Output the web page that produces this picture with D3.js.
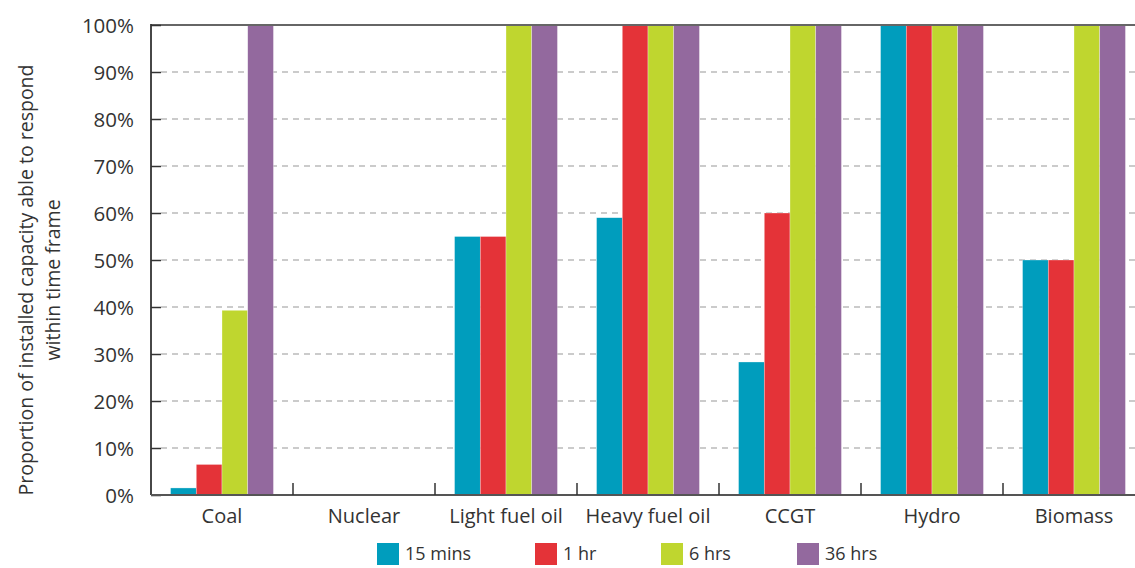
<!DOCTYPE html>
<html>
<head>
<meta charset="utf-8">
<script src="https://cdn.jsdelivr.net/npm/d3@7"></script>
<style>
  html, body { margin: 0; padding: 0; background: #fff; }
  svg { display: block; }
  text { font-family: "Open Sans", "Noto Sans", sans-serif; fill: #333; }
</style>
</head>
<body>
<svg id="chart" width="1135" height="568"></svg>
<script>
const categories = ["Coal", "Nuclear", "Light fuel oil", "Heavy fuel oil", "CCGT", "Hydro", "Biomass"];
const seriesNames = ["15 mins", "1 hr", "6 hrs", "36 hrs"];
const seriesColors = ["#009DBD", "#E43338", "#BFD62F", "#93699E"];
const mins15 = [1.5, 0, 55, 59, 28.3, 100, 50];
const hr1    = [6.5, 0, 55, 100, 60, 100, 50];
const hrs6   = [39.3, 0, 100, 100, 100, 100, 100];
const hrs36  = [100, 0, 100, 100, 100, 100, 100];
const seriesValues = [mins15, hr1, hrs6, hrs36];
const yTicks = [0, 10, 20, 30, 40, 50, 60, 70, 80, 90, 100];

(function () {
const svg = d3.select("#chart");
const mLeft = 151, mTop = 25, mBottom = 495, bandW = 142;
const mRight = mLeft + bandW * categories.length;

const x = d3.scaleBand().domain(categories).range([mLeft, mRight]).paddingInner(0).paddingOuter(0);
const xs = d3.scaleBand().domain(seriesNames).range([0, x.bandwidth()]).paddingInner(0).paddingOuter(0.76);
const y = d3.scaleLinear().domain([0, 100]).range([mBottom, mTop]);

// gridlines
svg.append("g").selectAll("line").data(yTicks.filter(d => d > 0 && d < 100)).join("line")
  .attr("x1", mLeft + 10).attr("x2", 1135)
  .attr("y1", d => y(d)).attr("y2", d => y(d))
  .attr("stroke", "#bbb").attr("stroke-width", 1.5).attr("stroke-dasharray", "6,5");

// bars
const data = [];
categories.forEach((c, i) => seriesNames.forEach((s, j) => data.push({c, s, v: seriesValues[j][i], color: seriesColors[j]})));
svg.append("g").selectAll("rect").data(data.filter(d => d.v > 0)).join("rect")
  .attr("x", d => x(d.c) + xs(d.s))
  .attr("width", xs.bandwidth())
  .attr("y", d => y(d.v))
  .attr("height", d => y(0) - y(d.v))
  .attr("fill", d => d.color)
  .attr("stroke", "#fff").attr("stroke-opacity", 0.5).attr("stroke-width", 0.6);

// top line
svg.append("line").attr("x1", mLeft).attr("x2", 1135).attr("y1", mTop).attr("y2", mTop)
  .attr("stroke", "#666").attr("stroke-width", 1.8);

// y axis
const yAxis = d3.axisRight(y).tickValues(yTicks).tickSize(10).tickFormat(d => d + "%");
const yg = svg.append("g").attr("transform", `translate(${mLeft},0)`).call(yAxis);
yg.select(".domain").remove();
yg.selectAll(".tick line").attr("stroke", "#333").attr("stroke-width", 1.5);
yg.selectAll(".tick text").attr("x", -17).attr("text-anchor", "end").attr("dy", "0.35em")
  .style("font-size", "20.5px").style("fill", "#333");
svg.append("line").attr("x1", mLeft).attr("x2", mLeft).attr("y1", mTop - 1).attr("y2", mBottom)
  .attr("stroke", "#333").attr("stroke-width", 1.8);

// x axis
const xAxis = d3.axisBottom(x).tickSize(0).tickPadding(14);
const xg = svg.append("g").attr("transform", `translate(0,${mBottom})`).call(xAxis);
xg.select(".domain").remove();
xg.selectAll(".tick text").style("font-size", "20px").style("fill", "#333");
svg.append("line").attr("x1", mLeft).attr("x2", 1135).attr("y1", mBottom).attr("y2", mBottom)
  .attr("stroke", "#555").attr("stroke-width", 1.8);
// category separator ticks
svg.append("g").selectAll("line").data(categories.slice(1)).join("line")
  .attr("x1", d => x(d)).attr("x2", d => x(d))
  .attr("y1", mBottom).attr("y2", mBottom - 12)
  .attr("stroke", "#333").attr("stroke-width", 1.5);

// y label
const yl = svg.append("text").attr("transform", `translate(33,280) rotate(-90)`)
  .attr("text-anchor", "middle").style("font-size", "19.5px");
yl.append("tspan").attr("x", 0).attr("dy", 0).text("Proportion of installed capacity able to respond");
yl.append("tspan").attr("x", 0).attr("dy", "1.4em").text("within time frame");

// legend
const legX = [377, 535, 661, 797];
const lg = svg.append("g").selectAll("g").data(seriesNames).join("g")
  .attr("transform", (d, i) => `translate(${legX[i]},543)`);
lg.append("rect").attr("width", 22).attr("height", 22).attr("fill", (d, i) => seriesColors[i]);
lg.append("text").attr("x", 28).attr("y", 11).attr("dy", "0.35em").style("font-size", "18px").text(d => d);
})();
</script>
</body>
</html>
